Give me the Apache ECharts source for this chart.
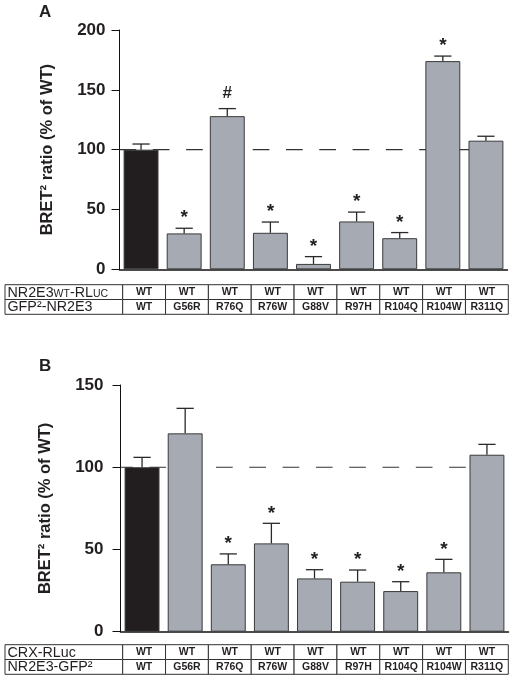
<!DOCTYPE html>
<html><head><meta charset="utf-8">
<script src="https://cdn.jsdelivr.net/npm/echarts@6/dist/echarts.min.js"></script>
<style>html,body{margin:0;padding:0;background:#fff}#c{width:514px;height:688px}</style>
</head><body><div id="c"></div>
<script>
// ---------- data ----------
const categories = ['WT','G56R','R76Q','R76W','G88V','R97H','R104Q','R104W','R311Q'];
// Panel A
const valuesA = [100, 30, 128, 30.5, 4.5, 40, 26, 174, 107.5];
const errA    = [4.7, 4.3, 6.3, 9, 6.1, 7.8, 4.7, 4.2, 3.7];
const marksA  = ['', '*', '#', '*', '*', '*', '*', '*', ''];
const yMaxA = 200, yStepA = 50;
// Panel B
const valuesB = [100, 120.6, 41, 53.7, 32.4, 30.4, 24.7, 36.1, 107.6];
const errB    = [6, 15.2, 6.3, 12.2, 5.3, 7.1, 5.7, 7.9, 6.3];
const marksB  = ['', '', '*', '*', '*', '*', '*', '*', ''];
const yMaxB = 150, yStepB = 50;
const refLevel = 100;
const refSpan = [0, 8.5];
// Tables
const rowLabelsA = ['NR2E3{sc|WT}-RL{sc|UC}', 'GFP\u00B2-NR2E3'];
const rowTopA = ['WT','WT','WT','WT','WT','WT','WT','WT','WT'];
const rowBotA = categories;
const rowLabelsB = ['CRX-RLuc', 'NR2E3-GFP\u00B2'];
const rowTopB = ['WT','WT','WT','WT','WT','WT','WT','WT','WT'];
const rowBotB = categories;
const yName = 'BRET\u00B2 ratio (% of WT)';

// ---------- style ----------
const FONT = 'Liberation Sans, Arial, Helvetica, sans-serif';
const INK = '#231f20';
const GRAY = '#a5aab3';
const TABLE_LEFT = 5;

function barData(vals){
  return vals.map((v,i)=>({value:v, itemStyle:{color: i===0 ? '#221e1f' : GRAY}}));
}
function errData(vals, errs){ return vals.map((v,i)=>[i, v, errs[i]]); }

function errRender(marks){
  return function(params, api){
    const i = api.value(0), v = api.value(1), e = api.value(2);
    const base = api.coord([i, v]);
    const top = api.coord([i, v + e]);
    const hw = api.size([1, 0])[0] * 0.2;
    const st = {stroke:'#2a2a2a', lineWidth:1.3};
    const ch = [
      {type:'line', shape:{x1:base[0], y1:base[1], x2:top[0], y2:top[1]}, style:st},
      {type:'line', shape:{x1:top[0]-hw, y1:top[1], x2:top[0]+hw, y2:top[1]}, style:st}
    ];
    const m = marks[params.dataIndex];
    if (m) {
      const isStar = m === '*';
      ch.push({type:'text', x: top[0], y: top[1] - (isStar ? 10 : 15.5),
        style:{text:m, fill:INK, fontFamily:FONT, fontWeight:'bold', fontSize: isStar ? 19 : 17,
          align:'center', verticalAlign:'middle'}});
    }
    return {type:'group', children: ch};
  };
}

function tableData(){
  const d = [];
  for (let r = 0; r < 2; r++) for (let c = 0; c < categories.length; c++) d.push([c, r]);
  return d;
}
function tableRender(rowLabels, rows){
  return function(params, api){
    const c = api.value(0), r = api.value(1);
    const p = api.coord([c, r]);
    const s = api.size([1, 1]);
    const x0 = p[0] - s[0]/2, y0 = p[1] - s[1]/2;
    const bst = {fill:'#fff', stroke:'#333', lineWidth:1};
    const ch = [
      {type:'rect', shape:{x:x0, y:y0, width:s[0], height:s[1]}, style:bst},
      {type:'text', x:p[0], y:p[1]+0.5, style:{text: rows[r][c], fill:INK, fontFamily:FONT,
        fontWeight:'bold', fontSize:10.5, align:'center', verticalAlign:'middle'}}
    ];
    if (c === 0) {
      ch.unshift({type:'rect', shape:{x:TABLE_LEFT, y:y0, width:x0-TABLE_LEFT, height:s[1]}, style:bst});
      ch.push({type:'text', x: TABLE_LEFT + 2.5, y: p[1] + 0.5, style:{text: rowLabels[r], fill:INK,
        fontFamily:FONT, fontSize:14.3, align:'left', verticalAlign:'middle',
        rich:{sc:{fontSize:10.5, fontFamily:FONT, fill:INK, verticalAlign:'bottom'}}}});
    }
    return {type:'group', children: ch};
  };
}

function valueAxis(gridIndex, max, step){
  return {type:'value', gridIndex, min:0, max, interval:step,
    name: yName, nameLocation:'middle', nameRotate:90, nameGap:64,
    nameTextStyle:{fontFamily:FONT, fontWeight:'bold', fontSize:16.5, color:INK},
    axisLine:{show:true, lineStyle:{color:'#111', width:1}},
    axisTick:{show:true, length:8, lineStyle:{color:'#111', width:1}},
    axisLabel:{fontFamily:FONT, fontWeight:'bold', fontSize:17, color:INK, margin:14},
    splitLine:{show:false}};
}
function catAxis(gridIndex){
  return {type:'category', gridIndex, data:categories,
    axisLine:{show:true, lineStyle:{color:'#111', width:1.5}},
    axisTick:{show:false}, axisLabel:{show:false}};
}
function hiddenCat(gridIndex, data, inverse){
  return {type:'category', gridIndex, data, inverse: !!inverse, show:false};
}

const chart = echarts.init(document.getElementById('c'), null, {renderer:'canvas'});
chart.setOption({
  animation:false,
  backgroundColor:'#fff',
  title:[
    {text:'A', left:39, top:4, padding:0, textStyle:{fontFamily:FONT, fontWeight:'bold', fontSize:17, color:INK}},
    {text:'B', left:39, top:358, padding:0, textStyle:{fontFamily:FONT, fontWeight:'bold', fontSize:17, color:INK}}
  ],
  grid:[
    {left:119.5, width:388, top:30, height:239.3},
    {left:122.7, width:385.6, top:284.7, height:29.6},
    {left:120.5, width:388, top:385, height:246.7},
    {left:122.7, width:385.6, top:644.7, height:29.6}
  ],
  xAxis:[
    catAxis(0),
    {type:'value', gridIndex:0, min:0, max:9, show:false},
    hiddenCat(1, categories),
    catAxis(2),
    {type:'value', gridIndex:2, min:0, max:9, show:false},
    hiddenCat(3, categories)
  ],
  yAxis:[
    valueAxis(0, yMaxA, yStepA),
    hiddenCat(1, ['r0','r1'], true),
    Object.assign(valueAxis(2, yMaxB, yStepB), {offset:3}),
    hiddenCat(3, ['r0','r1'], true)
  ],
  series:[
    {type:'line', xAxisIndex:1, yAxisIndex:0, data: refSpan.map(x=>[x, refLevel]), symbol:'none', z:1, silent:true,
      lineStyle:{color:'#333', width:1.2, type:[16.7,16.6]}},
    {type:'bar', xAxisIndex:0, yAxisIndex:0, data: barData(valuesA), barWidth:'81%', z:2,
      itemStyle:{borderColor:'#3a3a3a', borderWidth:1}},
    {type:'custom', xAxisIndex:0, yAxisIndex:0, data: errData(valuesA, errA), encode:{x:0, y:1}, z:3,
      renderItem: errRender(marksA)},
    {type:'custom', xAxisIndex:2, yAxisIndex:1, data: tableData(), encode:{x:0, y:1}, z:3,
      renderItem: tableRender(rowLabelsA, [rowTopA, rowBotA])},

    {type:'line', xAxisIndex:4, yAxisIndex:2, data: refSpan.map(x=>[x, refLevel]), symbol:'none', z:1, silent:true,
      lineStyle:{color:'#333', width:1.2, type:[16.7,16.6], dashOffset:4.4}},
    {type:'bar', xAxisIndex:3, yAxisIndex:2, data: barData(valuesB), barWidth:'81%', z:2,
      itemStyle:{borderColor:'#3a3a3a', borderWidth:1}},
    {type:'custom', xAxisIndex:3, yAxisIndex:2, data: errData(valuesB, errB), encode:{x:0, y:1}, z:3,
      renderItem: errRender(marksB)},
    {type:'custom', xAxisIndex:5, yAxisIndex:3, data: tableData(), encode:{x:0, y:1}, z:3,
      renderItem: tableRender(rowLabelsB, [rowTopB, rowBotB])}
  ]
});
</script>
</body></html>
